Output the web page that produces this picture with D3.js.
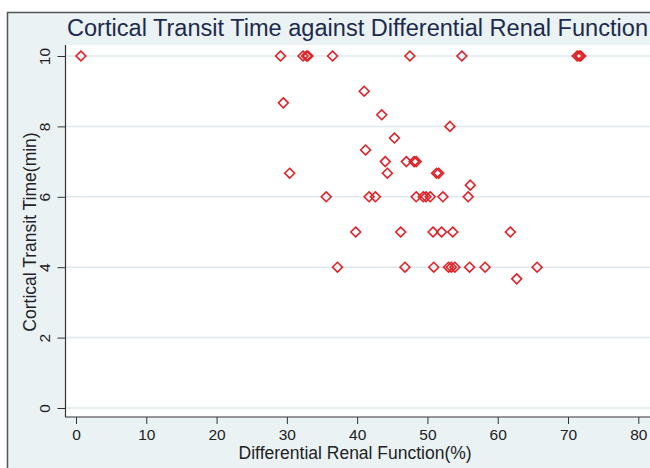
<!DOCTYPE html>
<html lang="en">
<head>
    <meta charset="UTF-8">
    <title>Cortical Transit Time against Differential Renal Function</title>
    <script src="https://d3js.org/d3.v7.min.js"></script>
    <style>
        body { margin: 0; background: #fff; }
        svg { display: block; font-family: "Liberation Sans", Arial, sans-serif; }
    </style>
</head>
<body>
    <svg id="chart" width="650" height="468"></svg>

    <script>
        // Data
        const drf = [
            0.7, 29.1, 32.3, 32.8, 33.0, 36.5, 47.5, 54.9, 71.3, 71.6, 71.8,
            41.0, 29.5, 43.5, 53.2, 45.3, 41.2,
            44.0, 47.0, 48.1, 48.4,
            30.4, 44.3, 51.3, 51.6,
            56.1,
            35.6, 41.7, 42.6, 48.4, 49.4, 49.8, 50.4, 52.2, 55.8,
            39.8, 46.2, 50.8, 52.0, 53.6, 61.8,
            37.2, 46.8, 50.9, 53.0, 53.4, 53.9, 56.0, 58.2, 65.6,
            62.7
        ];
        const ctt = [
            10, 10, 10, 10, 10, 10, 10, 10, 10, 10, 10,
            9, 8.67, 8.33, 8, 7.67, 7.33,
            7, 7, 7, 7,
            6.67, 6.67, 6.67, 6.67,
            6.33,
            6, 6, 6, 6, 6, 6, 6, 6, 6,
            5, 5, 5, 5, 5, 5,
            4, 4, 4, 4, 4, 4, 4, 4, 4,
            3.67
        ];
        const xTicks = [0, 10, 20, 30, 40, 50, 60, 70, 80];
        const yTicks = [0, 2, 4, 6, 8, 10];

        const points = drf.map((d, i) => ({ x: d, y: ctt[i] }));

        const width = 650, height = 468;
        const plot = { left: 66, top: 45, right: 650, bottom: 417 };

        const svg = d3.select('#chart');

        // outer graph region
        svg.append('rect')
            .attr('x', 7.5).attr('y', 12.5)
            .attr('width', width).attr('height', height)
            .attr('fill', '#eaf2f4')
            .attr('stroke', '#555').attr('stroke-width', 1.5);

        // plot region
        svg.append('rect')
            .attr('x', plot.left).attr('y', plot.top)
            .attr('width', plot.right - plot.left).attr('height', plot.bottom - plot.top)
            .attr('fill', '#fff');

        const x = d3.scaleLinear().domain([0, 80]).range([76, 638.3]);
        const y = d3.scaleLinear().domain([0, 10]).range([408, 56]);

        // gridlines
        svg.append('g')
            .selectAll('line')
            .data(yTicks)
            .join('line')
            .attr('x1', plot.left).attr('x2', plot.right)
            .attr('y1', d => y(d)).attr('y2', d => y(d))
            .attr('stroke', '#dfe9ed').attr('stroke-width', 1.5);

        // y axis
        const yAxis = svg.append('g')
            .attr('transform', `translate(${plot.left - 0.5},0)`)
            .call(d3.axisLeft(y).tickValues(yTicks).tickSize(8).tickSizeOuter(0));
        yAxis.select('.domain').remove();
        yAxis.selectAll('.tick line').attr('stroke', '#333');
        yAxis.selectAll('.tick text')
            .attr('transform', 'rotate(-90)')
            .attr('x', 0).attr('y', -15.5).attr('dy', 0)
            .attr('text-anchor', 'middle')
            .attr('font-size', 15.5).attr('fill', '#222');
        svg.append('line')
            .attr('x1', plot.left - 0.5).attr('x2', plot.left - 0.5)
            .attr('y1', plot.top).attr('y2', plot.bottom)
            .attr('stroke', '#333').attr('stroke-width', 1.2);

        // x axis
        const xAxis = svg.append('g')
            .attr('transform', `translate(0,${plot.bottom})`)
            .call(d3.axisBottom(x).tickValues(xTicks).tickSize(7).tickSizeOuter(0));
        xAxis.select('.domain').remove();
        xAxis.selectAll('.tick line').attr('stroke', '#333');
        xAxis.selectAll('.tick text')
            .attr('y', 22.5).attr('dy', 0)
            .attr('font-size', 15.5).attr('fill', '#222');
        svg.append('line')
            .attr('x1', plot.left - 1).attr('x2', plot.right)
            .attr('y1', plot.bottom).attr('y2', plot.bottom)
            .attr('stroke', '#333').attr('stroke-width', 1.2);

        // markers: hollow diamonds
        const diamond = d3.symbol().type(d3.symbolDiamond2).size(62);
        svg.append('g')
            .selectAll('path')
            .data(points)
            .join('path')
            .attr('transform', d => `translate(${x(d.x)},${y(d.y)})`)
            .attr('d', diamond)
            .attr('fill', 'none')
            .attr('stroke', '#e02128')
            .attr('stroke-width', 1.6);

        // titles
        svg.append('text')
            .attr('x', 67).attr('y', 36)
            .attr('font-size', 23)
            .attr('fill', '#1c2a4e')
            .attr('textLength', 581)
            .attr('lengthAdjust', 'spacingAndGlyphs')
            .text('Cortical Transit Time against Differential Renal Function');

        svg.append('text')
            .attr('x', (x(0) + x(80)) / 2 - 2).attr('y', 459)
            .attr('text-anchor', 'middle')
            .attr('font-size', 17.5).attr('fill', '#222')
            .text('Differential Renal Function(%)');

        svg.append('text')
            .attr('transform', `translate(36,${y(5)}) rotate(-90)`)
            .attr('text-anchor', 'middle')
            .attr('font-size', 17.5).attr('fill', '#222')
            .text('Cortical Transit Time(min)');
    </script>
</body>
</html>
